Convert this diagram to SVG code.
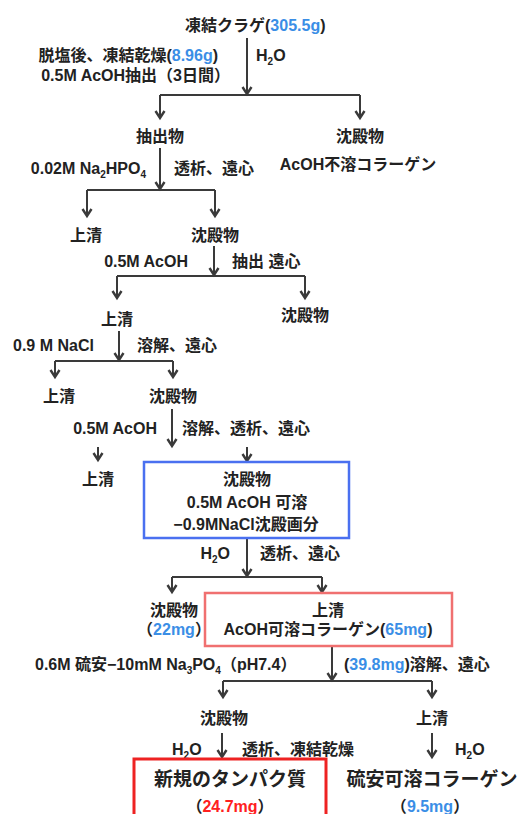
<svg xmlns="http://www.w3.org/2000/svg" width="519" height="814" viewBox="0 0 519 814">
<style>
text{font-family:"Liberation Sans","Noto Sans CJK JP",sans-serif;font-weight:bold;font-size:16px;fill:#222}
.m{text-anchor:middle}
.e{text-anchor:end}
.big{font-size:19px}
.b{fill:#3a8ee6}
.r{fill:#ff2020}
.sub{font-size:10px}
.ln{stroke:#3a3a3a;stroke-width:2;fill:none}
.ar{stroke:#3a3a3a;stroke-width:2;fill:none;marker-end:url(#ah)}
</style>
<defs>
<marker id="ah" markerUnits="userSpaceOnUse" markerWidth="12" markerHeight="12" refX="9" refY="6" orient="auto" viewBox="0 0 12 12">
<path d="M2,1.5 L9,6 L2,10.5" fill="none" stroke="#3a3a3a" stroke-width="2.4"/>
</marker>
</defs>
<rect width="519" height="814" fill="#fff"/>

<g id="connectors">
<path class="ar" d="M247,38 V94"/>
<path class="ln" d="M160,95 H360"/>
<path class="ar" d="M160,95 V118"/>
<path class="ar" d="M360,95 V118"/>

<path class="ar" d="M160,148 V189"/>
<path class="ln" d="M87,190 H215"/>
<path class="ar" d="M87,190 V216"/>
<path class="ar" d="M215,190 V216"/>

<path class="ar" d="M214,246 V275"/>
<path class="ln" d="M117,276 H305"/>
<path class="ar" d="M117,276 V298"/>
<path class="ar" d="M305,276 V298"/>

<path class="ar" d="M119,331 V360"/>
<path class="ln" d="M55,361 H173"/>
<path class="ar" d="M55,361 V377"/>
<path class="ar" d="M173,361 V377"/>

<path class="ar" d="M172,409 V446"/>
<path class="ar" d="M98,447 V460"/>
<path class="ar" d="M247,447 V461"/>

<path class="ar" d="M247,538 V576"/>
<path class="ln" d="M172,577 H322"/>
<path class="ar" d="M172,577 V592"/>
<path class="ar" d="M322,577 V592"/>

<path class="ar" d="M332,646 V680"/>
<path class="ln" d="M223,681 H432"/>
<path class="ar" d="M223,681 V697"/>
<path class="ar" d="M432,681 V697"/>

<path class="ar" d="M222,733 V757"/>
<path class="ar" d="M432,733 V757"/>
</g>

<g id="labels">
<text class="e" x="218" y="61">脱塩後、凍結乾燥(<tspan class="b">8.96g</tspan>)</text>
<text class="e" x="230" y="81">0.5M AcOH抽出（3日間）</text>
<text x="256" y="61">H<tspan class="sub" dy="4">2</tspan><tspan dy="-4">O</tspan></text>
<text class="e" x="146" y="174">0.02M Na<tspan class="sub" dy="4">2</tspan><tspan dy="-4">HPO</tspan><tspan class="sub" dy="4">4</tspan></text>
<text x="174" y="174">透析、遠心</text>
<text class="e" x="188" y="267">0.5M AcOH</text>
<text x="232" y="267">抽出 遠心</text>
<text x="13" y="351">0.9 M NaCl</text>
<text x="137" y="351">溶解、遠心</text>
<text class="e" x="157" y="434">0.5M AcOH</text>
<text x="182" y="434">溶解、透析、遠心</text>
<text class="e" x="230" y="559">H<tspan class="sub" dy="4">2</tspan><tspan dy="-4">O</tspan></text>
<text x="260" y="559">透析、遠心</text>
<text x="35" y="670">0.6M 硫安−10mM Na<tspan class="sub" dy="4">3</tspan><tspan dy="-4">PO</tspan><tspan class="sub" dy="4">4</tspan><tspan dy="-4">（pH7.4）</tspan></text>
<text x="344" y="670">(<tspan class="b">39.8mg</tspan>)溶解、遠心</text>
<text x="172" y="755">H<tspan class="sub" dy="4">2</tspan><tspan dy="-4">O</tspan></text>
<text x="242" y="755">透析、凍結乾燥</text>
<text x="455" y="755">H<tspan class="sub" dy="4">2</tspan><tspan dy="-4">O</tspan></text>
</g>

<g id="n-start"><text x="185" y="31">凍結クラゲ(<tspan class="b">305.5g</tspan>)</text></g>
<g id="n-extract"><text class="m" x="160" y="142">抽出物</text></g>
<g id="n-insoluble"><text class="m" x="360" y="142">沈殿物</text><text class="m" x="358" y="170">AcOH不溶コラーゲン</text></g>
<g id="n-sup1"><text class="m" x="86" y="241">上清</text></g>
<g id="n-ppt1"><text class="m" x="215" y="241">沈殿物</text></g>
<g id="n-sup2"><text class="m" x="117" y="325">上清</text></g>
<g id="n-ppt2"><text class="m" x="305" y="321">沈殿物</text></g>
<g id="n-sup3"><text class="m" x="59" y="402">上清</text></g>
<g id="n-ppt3"><text class="m" x="173" y="402">沈殿物</text></g>
<g id="n-sup4"><text class="m" x="98" y="485">上清</text></g>
<g id="n-nacl">
<rect x="144" y="462" width="205" height="76" fill="none" stroke="#4a70f0" stroke-width="2.5"/>
<text class="m" x="247" y="485">沈殿物</text>
<text class="m" x="247" y="508">0.5M AcOH 可溶</text>
<text class="m" x="246" y="530">−0.9MNaCl沈殿画分</text>
</g>
<g id="n-ppt5"><text class="m" x="174" y="616">沈殿物</text><text class="m" x="174" y="635">（<tspan class="b">22mg</tspan>）</text></g>
<g id="n-asc">
<rect x="205" y="593" width="247" height="53" fill="none" stroke="#f07070" stroke-width="2.5"/>
<text class="m" x="328" y="616">上清</text>
<text class="m" x="328" y="635">AcOH可溶コラーゲン(<tspan class="b">65mg</tspan>)</text>
</g>
<g id="n-ppt6"><text class="m" x="224" y="724">沈殿物</text></g>
<g id="n-sup6"><text class="m" x="432" y="724">上清</text></g>
<g id="n-novel">
<rect x="134" y="759" width="192" height="70" fill="none" stroke="#ee2222" stroke-width="3"/>
<text class="m big" x="230" y="786">新規のタンパク質</text>
<text class="m" x="230" y="812">（<tspan class="r">24.7mg</tspan>）</text>
</g>
<g id="n-assc">
<text class="m big" x="432" y="786">硫安可溶コラーゲン</text>
<text class="m" x="430" y="812">（<tspan class="b">9.5mg</tspan>）</text>
</g>
</svg>
